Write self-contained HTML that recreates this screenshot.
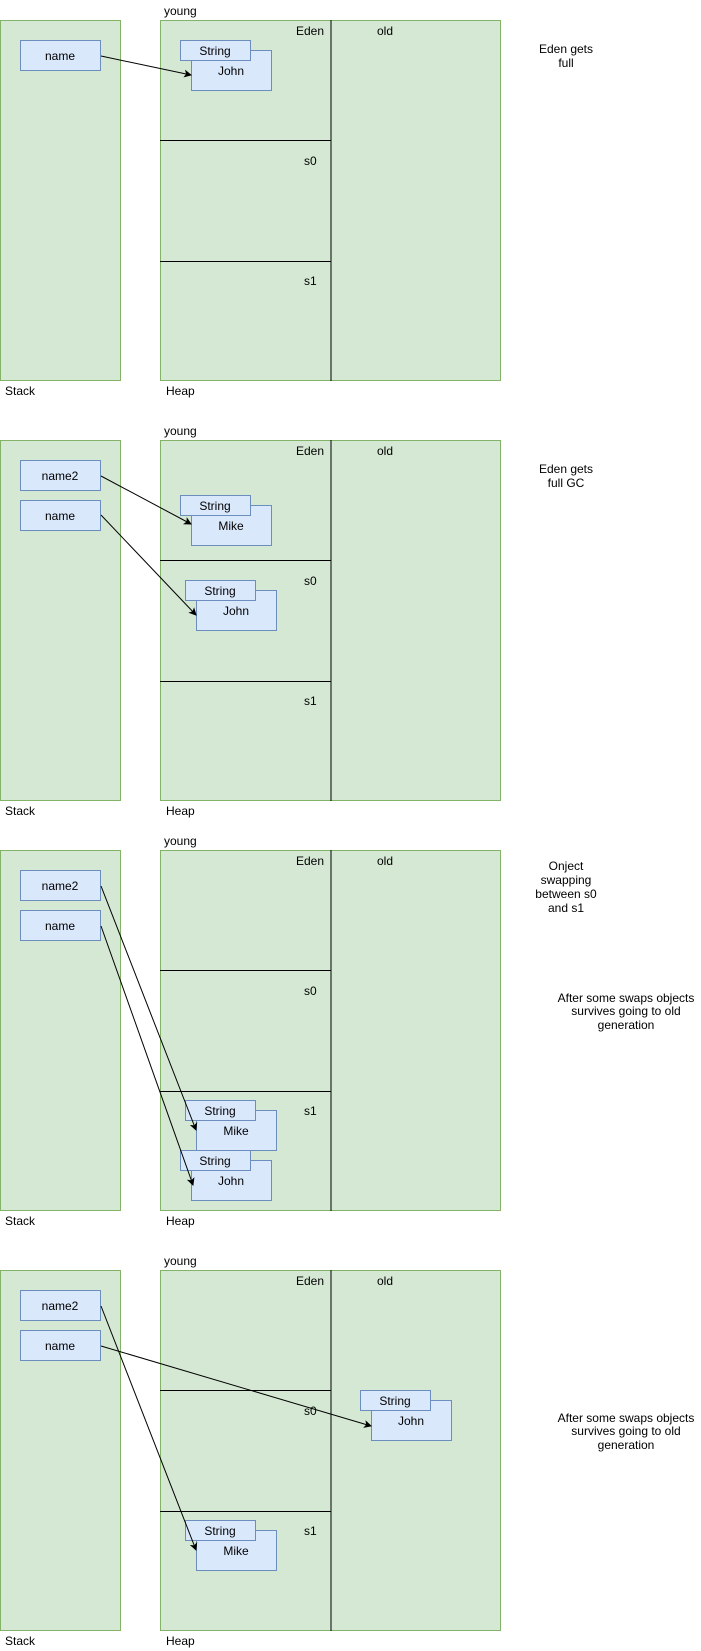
<!DOCTYPE html>
<html><head><meta charset="utf-8"><style>html,body{margin:0;padding:0;background:#fff}svg{display:block}text{font-family:"Liberation Sans",sans-serif;font-size:12px;fill:#000}</style></head>
<body>
<svg width="701" height="1651" viewBox="0 0 701 1651" xmlns="http://www.w3.org/2000/svg">
<defs>
<marker id="a" markerWidth="8" markerHeight="8" refX="7" refY="4" orient="auto" markerUnits="userSpaceOnUse"><path d="M0,0 L8,4 L0,8 L2,4 z" fill="#000"/></marker>
<g id="base">
<rect x="0.5" y="20.5" width="120" height="360" fill="#d5e8d4" stroke="#82b366"/>
<rect x="160.5" y="20.5" width="340" height="360" fill="#d5e8d4" stroke="#82b366"/>
<line x1="331" y1="20" x2="331" y2="381" stroke="#000"/>
<line x1="160" y1="140.5" x2="331" y2="140.5" stroke="#000"/>
<line x1="160" y1="261.5" x2="331" y2="261.5" stroke="#000"/>
<text x="164" y="15">young</text>
<text x="324" y="35" text-anchor="end">Eden</text>
<text x="377" y="35">old</text>
<text x="304" y="165">s0</text>
<text x="304" y="285">s1</text>
<text x="5" y="395">Stack</text>
<text x="166" y="395">Heap</text>
</g>
</defs>

<g>
<use href="#base"/>
<rect x="20.5" y="40.5" width="80" height="30" fill="#dae8fc" stroke="#6c8ebf"/><text x="60" y="60" text-anchor="middle">name</text>
<rect x="191.5" y="50.5" width="80" height="40" fill="#dae8fc" stroke="#6c8ebf"/><text x="231" y="75" text-anchor="middle">John</text>
<rect x="180.5" y="40.5" width="70" height="20" fill="#dae8fc" stroke="#6c8ebf"/><text x="215" y="55" text-anchor="middle">String</text>
<line x1="101" y1="56" x2="191" y2="75" stroke="#000" marker-end="url(#a)"/>
<text x="566" y="53" text-anchor="middle">Eden gets</text><text x="566" y="67" text-anchor="middle">full</text>
</g>

<g transform="translate(0,420)">
<use href="#base"/>
<rect x="20.5" y="40.5" width="80" height="30" fill="#dae8fc" stroke="#6c8ebf"/><text x="60" y="60" text-anchor="middle">name2</text>
<rect x="20.5" y="80.5" width="80" height="30" fill="#dae8fc" stroke="#6c8ebf"/><text x="60" y="100" text-anchor="middle">name</text>
<rect x="191.5" y="85.5" width="80" height="40" fill="#dae8fc" stroke="#6c8ebf"/><text x="231" y="110" text-anchor="middle">Mike</text>
<rect x="180.5" y="75.5" width="70" height="20" fill="#dae8fc" stroke="#6c8ebf"/><text x="215" y="90" text-anchor="middle">String</text>
<rect x="196.5" y="170.5" width="80" height="40" fill="#dae8fc" stroke="#6c8ebf"/><text x="236" y="195" text-anchor="middle">John</text>
<rect x="185.5" y="160.5" width="70" height="20" fill="#dae8fc" stroke="#6c8ebf"/><text x="220" y="175" text-anchor="middle">String</text>
<line x1="101" y1="56" x2="191" y2="104" stroke="#000" marker-end="url(#a)"/>
<line x1="101" y1="95" x2="196" y2="195" stroke="#000" marker-end="url(#a)"/>
<text x="566" y="53" text-anchor="middle">Eden gets</text><text x="566" y="67" text-anchor="middle">full GC</text>
</g>

<g transform="translate(0,830)">
<use href="#base"/>
<rect x="20.5" y="40.5" width="80" height="30" fill="#dae8fc" stroke="#6c8ebf"/><text x="60" y="60" text-anchor="middle">name2</text>
<rect x="20.5" y="80.5" width="80" height="30" fill="#dae8fc" stroke="#6c8ebf"/><text x="60" y="100" text-anchor="middle">name</text>
<rect x="196.5" y="280.5" width="80" height="40" fill="#dae8fc" stroke="#6c8ebf"/><text x="236" y="305" text-anchor="middle">Mike</text>
<rect x="185.5" y="270.5" width="70" height="20" fill="#dae8fc" stroke="#6c8ebf"/><text x="220" y="285" text-anchor="middle">String</text>
<rect x="191.5" y="330.5" width="80" height="40" fill="#dae8fc" stroke="#6c8ebf"/><text x="231" y="355" text-anchor="middle">John</text>
<rect x="180.5" y="320.5" width="70" height="20" fill="#dae8fc" stroke="#6c8ebf"/><text x="215" y="335" text-anchor="middle">String</text>
<line x1="101" y1="56" x2="196" y2="300" stroke="#000" marker-end="url(#a)"/>
<line x1="101" y1="96" x2="193" y2="355" stroke="#000" marker-end="url(#a)"/>
<text x="566" y="40" text-anchor="middle">Onject</text><text x="566" y="54" text-anchor="middle">swapping</text><text x="566" y="68" text-anchor="middle">between s0</text><text x="566" y="82" text-anchor="middle">and s1</text>
<text x="626" y="172" text-anchor="middle">After some swaps objects</text><text x="626" y="185" text-anchor="middle">survives going to old</text><text x="626" y="199" text-anchor="middle">generation</text>
</g>

<g transform="translate(0,1250)">
<use href="#base"/>
<rect x="20.5" y="40.5" width="80" height="30" fill="#dae8fc" stroke="#6c8ebf"/><text x="60" y="60" text-anchor="middle">name2</text>
<rect x="20.5" y="80.5" width="80" height="30" fill="#dae8fc" stroke="#6c8ebf"/><text x="60" y="100" text-anchor="middle">name</text>
<rect x="371.5" y="150.5" width="80" height="40" fill="#dae8fc" stroke="#6c8ebf"/><text x="411" y="175" text-anchor="middle">John</text>
<rect x="360.5" y="140.5" width="70" height="20" fill="#dae8fc" stroke="#6c8ebf"/><text x="395" y="155" text-anchor="middle">String</text>
<rect x="196.5" y="280.5" width="80" height="40" fill="#dae8fc" stroke="#6c8ebf"/><text x="236" y="305" text-anchor="middle">Mike</text>
<rect x="185.5" y="270.5" width="70" height="20" fill="#dae8fc" stroke="#6c8ebf"/><text x="220" y="285" text-anchor="middle">String</text>
<line x1="101" y1="56" x2="196" y2="300" stroke="#000" marker-end="url(#a)"/>
<line x1="101" y1="96" x2="371" y2="176" stroke="#000" marker-end="url(#a)"/>
<text x="626" y="172" text-anchor="middle">After some swaps objects</text><text x="626" y="185" text-anchor="middle">survives going to old</text><text x="626" y="199" text-anchor="middle">generation</text>
</g>
</svg>
</body></html>
